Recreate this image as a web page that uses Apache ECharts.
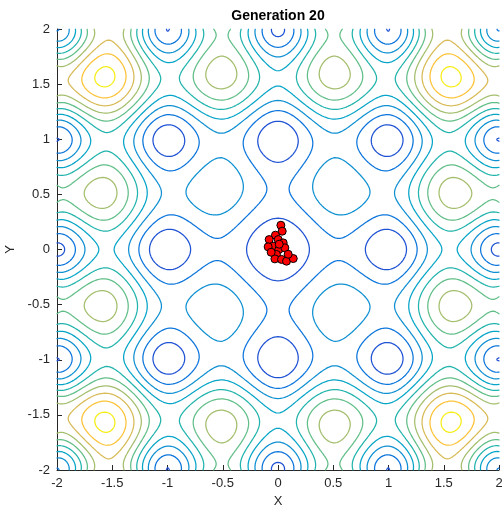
<!DOCTYPE html>
<html>
<head>
<meta charset="utf-8">
<script src="https://cdn.jsdelivr.net/npm/echarts@6/dist/echarts.min.js"></script>
<style>html,body{margin:0;padding:0;background:#ffffff}#chart{width:502px;height:512px}</style>
</head>
<body>
<div id="chart"></div>
<script>
// ---------- chart data ----------
const chartTitle = 'Generation 20';
const xAxisName = 'X';
const yAxisName = 'Y';
const axisMin = -2;
const axisMax = 2;
const tickStep = 0.5;
// contour levels of the objective surface
const contourLevels = [2, 4, 6, 8, 10, 12, 14, 16, 18, 20];
// objective surface:
// f = bowl * r^bowlPower + scale * exp(growth * |(x,y)|_p) * (2 - cos(2*pi*x) - cos(2*pi*y))^power
const surfaceBowl = 0.174;
const surfaceBowlPower = 3;
const surfaceScale = 1.37;
const surfaceGrowth = 0.74;
const surfaceNorm = 3;
const surfacePower = 0.86;
const gridSamples = 241;
// population of generation 20
const popX = [0.026, 0.038, -0.023, -0.080, 0.002, -0.043, 0.047, -0.089, 0.008, 0.062, -0.014, -0.028, 0.032, 0.077, 0.138, 0.092, -0.062, 0.011];
const popY = [0.220, 0.166, 0.130, 0.090, 0.090, 0.030, 0.060, 0.024, 0.000, 0.015, -0.045, -0.085, -0.090, -0.106, -0.082, -0.043, -0.025, 0.048];
// parula colour map (every third entry of the 64-colour map)
const parula = [
  [0.2081,0.1663,0.5292],[0.2081,0.2386,0.6771],[0.1253,0.3242,0.8303],[0.0060,0.4086,0.8828],
  [0.0498,0.4586,0.8641],[0.0779,0.5040,0.8384],[0.0641,0.5570,0.8240],[0.0265,0.6137,0.8135],
  [0.0231,0.6418,0.7913],[0.0384,0.6743,0.7436],[0.1133,0.7015,0.6859],[0.2178,0.7250,0.6193],
  [0.3482,0.7424,0.5473],[0.4871,0.7491,0.4840],[0.6099,0.7473,0.4337],[0.7184,0.7411,0.3905],
  [0.8185,0.7327,0.3498],[0.9139,0.7258,0.3063],[0.9938,0.7455,0.2403],[0.9880,0.8066,0.1794],
  [0.9589,0.8949,0.1132],[0.9763,0.9831,0.0538]
];

// ---------- helpers ----------
function objective(x, y) {
  const w = 2 * Math.PI;
  const r2 = Math.sqrt(x * x + y * y);
  const rp = Math.pow(Math.pow(Math.abs(x), surfaceNorm) + Math.pow(Math.abs(y), surfaceNorm), 1 / surfaceNorm);
  const g = Math.max(0, 2 - Math.cos(w * x) - Math.cos(w * y));
  return surfaceBowl * Math.pow(r2, surfaceBowlPower) + surfaceScale * Math.exp(surfaceGrowth * rp) * Math.pow(g, surfacePower);
}
function parulaColor(v) {
  v = Math.max(0, Math.min(1, v));
  const p = v * (parula.length - 1);
  const k = Math.min(parula.length - 2, Math.floor(p));
  const t = p - k;
  const c = [0, 1, 2].map(i => Math.round(255 * (parula[k][i] * (1 - t) + parula[k + 1][i] * t)));
  return 'rgb(' + c.join(',') + ')';
}

const N = gridSamples;
const h = (axisMax - axisMin) / (N - 1);
const gx = Array.from({length: N}, (_, i) => axisMin + i * h);
const Z = new Float64Array(N * N);
let zMin = Infinity, zMax = -Infinity;
for (let j = 0; j < N; j++) for (let i = 0; i < N; i++) {
  const z = objective(gx[i], gx[j]);
  Z[j * N + i] = z;
  if (z < zMin) zMin = z;
  if (z > zMax) zMax = z;
}

function contourLines(L) {
  const pts = new Map();
  const segs = [];
  function hEdge(i, j) {
    const id = j * N + i;
    if (!pts.has(id)) { const a = Z[j * N + i], b = Z[j * N + i + 1]; const t = (L - a) / (b - a); pts.set(id, [gx[i] + t * h, gx[j]]); }
    return id;
  }
  function vEdge(i, j) {
    const id = N * N + j * N + i;
    if (!pts.has(id)) { const a = Z[j * N + i], b = Z[(j + 1) * N + i]; const t = (L - a) / (b - a); pts.set(id, [gx[i], gx[j] + t * h]); }
    return id;
  }
  for (let j = 0; j < N - 1; j++) for (let i = 0; i < N - 1; i++) {
    const z00 = Z[j * N + i], z10 = Z[j * N + i + 1], z11 = Z[(j + 1) * N + i + 1], z01 = Z[(j + 1) * N + i];
    const a0 = z00 > L, a1 = z10 > L, a2 = z11 > L, a3 = z01 > L;
    const c = (a0 ? 1 : 0) | (a1 ? 2 : 0) | (a2 ? 4 : 0) | (a3 ? 8 : 0);
    if (c === 0 || c === 15) continue;
    const E = [];
    if (a0 !== a1) E.push(hEdge(i, j));
    if (a1 !== a2) E.push(vEdge(i + 1, j));
    if (a2 !== a3) E.push(hEdge(i, j + 1));
    if (a3 !== a0) E.push(vEdge(i, j));
    if (E.length === 2) segs.push([E[0], E[1]]);
    else {
      const [B, R, T, Lf] = E;
      const centerAbove = (z00 + z10 + z11 + z01) / 4 > L;
      if ((c === 5) === centerAbove) { segs.push([B, R]); segs.push([T, Lf]); }
      else { segs.push([Lf, B]); segs.push([R, T]); }
    }
  }
  const adj = new Map();
  segs.forEach((s, k) => { for (const e of s) { if (!adj.has(e)) adj.set(e, []); adj.get(e).push(k); } });
  const used = new Uint8Array(segs.length);
  const out = [];
  function extend(arr) {
    while (true) {
      const last = arr[arr.length - 1];
      const list = adj.get(last);
      let nxt = -1;
      for (const m of list) if (!used[m]) { nxt = m; break; }
      if (nxt < 0) break;
      used[nxt] = 1;
      const s = segs[nxt];
      arr.push(s[0] === last ? s[1] : s[0]);
    }
  }
  for (let k = 0; k < segs.length; k++) {
    if (used[k]) continue;
    used[k] = 1;
    const chain = [segs[k][0], segs[k][1]];
    extend(chain);
    chain.reverse();
    extend(chain);
    out.push(chain.map(e => pts.get(e)));
  }
  return out;
}

const FONT = '"Liberation Sans", Arial, Helvetica, sans-serif';
const series = contourLevels.map(L => ({
  type: 'lines',
  coordinateSystem: 'cartesian2d',
  polyline: true,
  silent: true,
  z: 2,
  data: contourLines(L).map(c => ({coords: c})),
  lineStyle: {color: parulaColor((L - zMin) / (zMax - zMin)), width: 1.25, opacity: 1, cap: 'round', join: 'round'}
}));
series.push({
  type: 'scatter',
  z: 5,
  symbol: 'circle',
  symbolSize: 8,
  data: popX.map((x, i) => [x, popY[i]]),
  itemStyle: {color: '#ff0000', borderColor: '#000000', borderWidth: 1, opacity: 1}
});

function axis(name, gap) {
  return {
    type: 'value', min: axisMin, max: axisMax, interval: tickStep,
    name: name, nameLocation: 'middle', nameGap: gap,
    nameTextStyle: {fontSize: 13, color: '#262626', fontFamily: FONT},
    axisLine: {show: true, onZero: false, lineStyle: {color: '#262626', width: 1}},
    axisTick: {show: true, inside: true, length: 5, lineStyle: {color: '#262626'}},
    axisLabel: {color: '#262626', fontSize: 13, fontFamily: FONT, margin: 7},
    splitLine: {show: false}
  };
}

const chart = echarts.init(document.getElementById('chart'), null, {renderer: 'canvas'});
chart.setOption({
  animation: false,
  backgroundColor: '#ffffff',
  title: {text: chartTitle, left: 273, top: 4, textAlign: 'center',
    textStyle: {fontSize: 14, fontWeight: 'bold', color: '#000000', fontFamily: FONT}},
  grid: {left: 57, right: 3, top: 29, bottom: 42, containLabel: false, outerBoundsMode: 'none'},
  xAxis: axis(xAxisName, 24),
  yAxis: axis(yAxisName, 38),
  series: series
});
</script>
</body>
</html>
